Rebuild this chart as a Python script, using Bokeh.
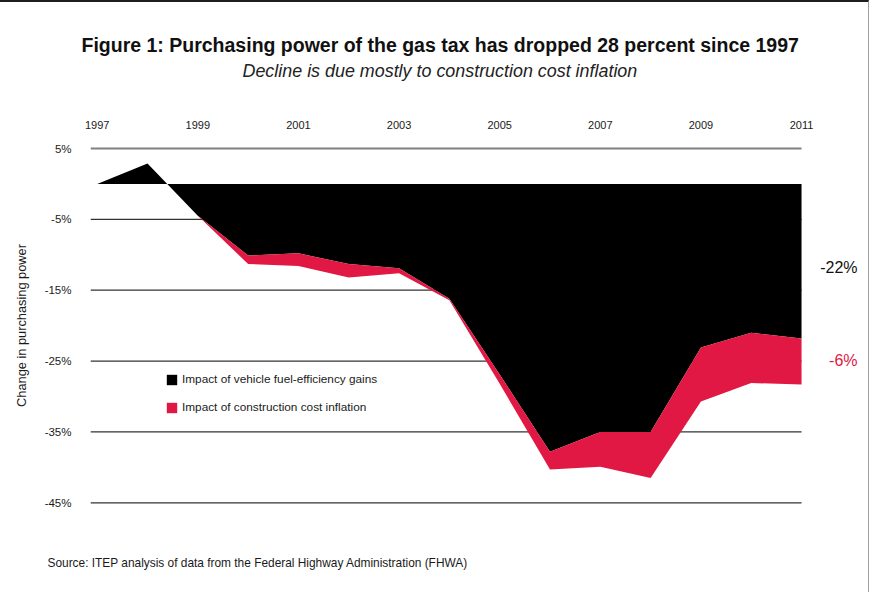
import math
from bokeh.plotting import figure
from bokeh.models import (Range1d, FixedTicker, PrintfTickFormatter, Label, Title,
                          Legend, LegendItem, ColumnDataSource)
from bokeh.embed import file_html
from bokeh.resources import INLINE

# ---------------- data ----------------
years = [1997, 1998, 1999, 2000, 2001, 2002, 2003, 2004,
         2005, 2006, 2007, 2008, 2009, 2010, 2011]
# boundary after the impact of vehicle fuel-efficiency gains (%)
fuel_efficiency = [0.0, 2.9, -4.5, -10.1, -9.8, -11.3, -11.9, -16.2,
                   -26.9, -37.8, -35.0, -35.0, -23.1, -21.0, -21.8]
# total change incl. construction cost inflation (%)
total_change = [0.0, 2.9, -4.5, -11.3, -11.6, -13.2, -12.6, -16.4,
                -28.2, -40.3, -39.9, -41.5, -30.7, -28.1, -28.3]
x_tick_years = [1997, 1999, 2001, 2003, 2005, 2007, 2009, 2011]
y_tick_values = [5, -5, -15, -25, -35, -45]
series_names = ["Impact of vehicle fuel-efficiency gains",
                "Impact of construction cost inflation"]
end_labels = ["-22%", "-6%"]
title_text = "Figure 1: Purchasing power of the gas tax has dropped 28 percent since 1997"
subtitle_text = "Decline is due mostly to construction cost inflation"
source_text = "Source: ITEP analysis of data from the Federal Highway Administration (FHWA)"
ylabel_text = "Change in purchasing power"

# ---------------- layout constants (picture pixels) ----------------
W, H = 869, 592
PX0, PY0 = 0, 2           # canvas origin in the picture
FL, FR, FT, FB = 90, 866, 140, 510
PX_PER_YEAR = 50.31
X_LEFT = 1997 - (96.7 - FL) / PX_PER_YEAR
X_RIGHT = 1997 + (FR - 96.7) / PX_PER_YEAR
Y_TOP, Y_BOTTOM = 6.13, -46.09

def dx(px):
    return X_LEFT + (px - FL) * (X_RIGHT - X_LEFT) / (FR - FL)

def dy(py):
    return Y_TOP - (py - FT) * (Y_TOP - Y_BOTTOM) / (FB - FT)

BLACK = "#000000"
RED = "#e01843"
SANS = "'Liberation Sans', Arial, sans-serif"

p = figure(width=W, height=H,
           x_range=Range1d(X_LEFT, X_RIGHT), y_range=Range1d(Y_BOTTOM, Y_TOP),
           x_axis_location="above", output_backend="svg", toolbar_location=None,
           min_border_left=FL - PX0, min_border_right=W - (FR - PX0),
           min_border_top=FT - PY0, min_border_bottom=H - (FB - PY0))
p.outline_line_color = None
p.background_fill_color = "white"
p.border_fill_color = "white"
p.styles = {"border-top": "2px solid #1e1e1e", "border-right": "1.5px solid #a0a0a0"}

src = ColumnDataSource(dict(year=years, fuel=fuel_efficiency, total=total_change,
                            zero=[0.0] * len(years)))

# gridlines, limited to the data's span
n = len(y_tick_values)
grid = ColumnDataSource(dict(
    x0=[years[0] - (96.7 - FL) / PX_PER_YEAR] * n, x1=[years[-1]] * n,
    y=y_tick_values,
    color=["#808080"] + ["#333333"] * (n - 1),
    width=[2.2] + [1.3] * (n - 1)))
p.segment(x0="x0", y0="y", x1="x1", y1="y", source=grid,
          line_color="color", line_width="width")

r_fuel = p.varea(x="year", y1="zero", y2="fuel", source=src, fill_color=BLACK)
r_con = p.varea(x="year", y1="fuel", y2="total", source=src, fill_color=RED)

# axes
p.xaxis.ticker = FixedTicker(ticks=x_tick_years)
p.xaxis.formatter = PrintfTickFormatter(format="%d")
p.yaxis.ticker = FixedTicker(ticks=y_tick_values)
p.yaxis.formatter = PrintfTickFormatter(format="%d%%")
for ax in (p.xaxis[0], p.yaxis[0]):
    ax.axis_line_color = None
    ax.major_tick_line_color = None
    ax.minor_tick_line_color = None
    ax.major_label_text_font = SANS
    ax.major_label_text_color = "#1a1a1a"
p.xaxis.major_label_text_font_size = "11px"
p.yaxis.major_label_text_font_size = "11.5px"
p.xaxis.major_label_standoff = 6
p.yaxis.major_label_standoff = 13
p.yaxis.axis_label = ylabel_text
p.yaxis.axis_label_text_font = SANS
p.yaxis.axis_label_text_font_size = "12.8px"
p.yaxis.axis_label_text_font_style = "normal"
p.yaxis.axis_label_text_color = "#1a1a1a"
p.yaxis.axis_label_standoff = 13
p.grid.visible = False

# titles (stacked outward from the top axis: spacer, subtitle, title)
p.add_layout(Title(text=" ", text_font_size="1px", standoff=32), "above")
p.add_layout(Title(text=subtitle_text, align="left", offset=242 - FL,
                   text_font=SANS, text_font_style="italic",
                   text_font_size="17.9px", text_color="#222222",
                   standoff=4), "above")
p.add_layout(Title(text=title_text, align="left", offset=81 - FL,
                   text_font=SANS, text_font_style="bold",
                   text_font_size="19.5px", text_color="#111111",
                   standoff=2), "above")
# source note below the chart (spacer first, then the note)
p.add_layout(Title(text=" ", text_font_size="1px", standoff=40), "below")
p.add_layout(Title(text=source_text, align="left", offset=47 - FL,
                   text_font=SANS, text_font_style="normal",
                   text_font_size="11.9px", text_color="#1a1a1a",
                   standoff=0), "below")

# legend
legend = Legend(items=[LegendItem(label=series_names[0], renderers=[r_fuel]),
                       LegendItem(label=series_names[1], renderers=[r_con])],
                location=(165 - FL, FB - 414), orientation="vertical",
                glyph_width=13, glyph_height=13, label_height=13,
                spacing=14, padding=0, margin=0, label_standoff=4,
                border_line_color=None, background_fill_alpha=0,
                label_text_font=SANS, label_text_font_size="11.8px",
                label_text_color="#1a1a1a")
p.add_layout(legend)

# end labels (inside the frame)
p.add_layout(Label(x=dx(857), y=dy(267), text=end_labels[0], text_align="right",
                   text_baseline="middle", text_font=SANS,
                   text_font_size="16px", text_color="#111111"))
p.add_layout(Label(x=dx(857), y=dy(360), text=end_labels[1], text_align="right",
                   text_baseline="middle", text_font=SANS,
                   text_font_size="16px", text_color=RED))

open("out.html", "w").write(file_html(p, INLINE))
